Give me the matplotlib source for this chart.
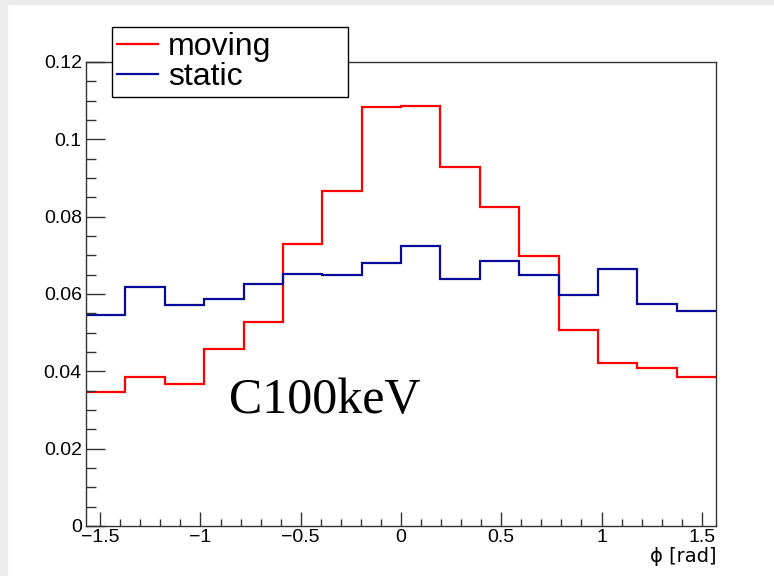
import numpy as np
import matplotlib
matplotlib.use("Agg")
import matplotlib.pyplot as plt
from matplotlib.patches import Rectangle
from matplotlib.ticker import MultipleLocator, FuncFormatter

# 16 bins over [-pi/2, pi/2]
n_bins = 16
moving = [0.0346, 0.0385, 0.0368, 0.0458, 0.0528, 0.0730, 0.0866, 0.1083,
          0.1086, 0.0929, 0.0824, 0.0699, 0.0508, 0.0421, 0.0409, 0.0386]
static = [0.0545, 0.0619, 0.0571, 0.0588, 0.0625, 0.0651, 0.0649, 0.0681,
          0.0724, 0.0640, 0.0685, 0.0649, 0.0597, 0.0665, 0.0574, 0.0557]
labels = ["moving", "static"]
RED, BLUE, FRAME = "#ff0000", "#0a0a9a", "#333333"

plt.rcParams["font.family"] = ["Liberation Sans", "DejaVu Sans"]

W, H = 774, 576
fig = plt.figure(figsize=(W / 100, H / 100), dpi=100)
# light grey canvas border (top and left)
fig.patches.append(Rectangle((0, 1 - 4 / H), 1, 4 / H, transform=fig.transFigure,
                             color="#ececec", zorder=-5))
fig.patches.append(Rectangle((0, 0), 7 / W, 1, transform=fig.transFigure,
                             color="#ececec", zorder=-5))

ax = fig.add_axes([86 / W, 50 / H, 630 / W, 464 / H])
edges = np.linspace(-np.pi / 2, np.pi / 2, n_bins + 1)
h1 = ax.stairs(moving, edges, baseline=None, color=RED, linewidth=1.6, label=labels[0])
h2 = ax.stairs(static, edges, baseline=None, color=BLUE, linewidth=1.6, label=labels[1])

ax.set_xlim(edges[0], edges[-1])
ax.set_ylim(0, 0.12)
for s in ax.spines.values():
    s.set_color(FRAME)
    s.set_linewidth(1.0)

ax.xaxis.set_major_locator(MultipleLocator(0.5))
ax.xaxis.set_minor_locator(MultipleLocator(0.1))
ax.yaxis.set_major_locator(MultipleLocator(0.02))
ax.yaxis.set_minor_locator(MultipleLocator(0.005))


def fmt(v, _):
    if abs(v) < 1e-9:
        return "0"
    s = f"{v:.2f}".rstrip("0").rstrip(".")
    return s.replace("-", "\u2212")


ax.xaxis.set_major_formatter(FuncFormatter(fmt))
ax.yaxis.set_major_formatter(FuncFormatter(fmt))
ax.tick_params(axis="x", which="major", direction="in", length=10, width=1,
               color=FRAME, labelsize=14, pad=2)
ax.tick_params(axis="x", which="minor", direction="in", length=5, width=1, color=FRAME)
ax.tick_params(axis="y", which="major", direction="in", length=14, width=1,
               color=FRAME, labelsize=14, pad=3)
ax.tick_params(axis="y", which="minor", direction="in", length=7, width=1, color=FRAME)

ax.set_xlabel("\u03d5 [rad]", fontsize=14, loc="right", labelpad=1,
              family=["DejaVu Sans"])

ax.text(-0.86, 0.0292, "C100keV", fontsize=36, family=["Liberation Serif"],
        color="black", ha="left", va="baseline")

leg = fig.legend(handles=[h1, h2], labels=labels, loc="upper left",
                 bbox_to_anchor=(112 / W, 1 - 27 / H, 236 / W, 0), mode="expand",
                 fontsize=23, frameon=True, fancybox=False, edgecolor="black",
                 framealpha=1, borderaxespad=0, borderpad=0.15, labelspacing=0.0,
                 handlelength=1.3, handletextpad=0.3)
leg.get_frame().set_linewidth(1.0)
for ln in leg.get_lines():
    ln.set_linewidth(1.6)

fig.savefig("out.png", dpi=100)
